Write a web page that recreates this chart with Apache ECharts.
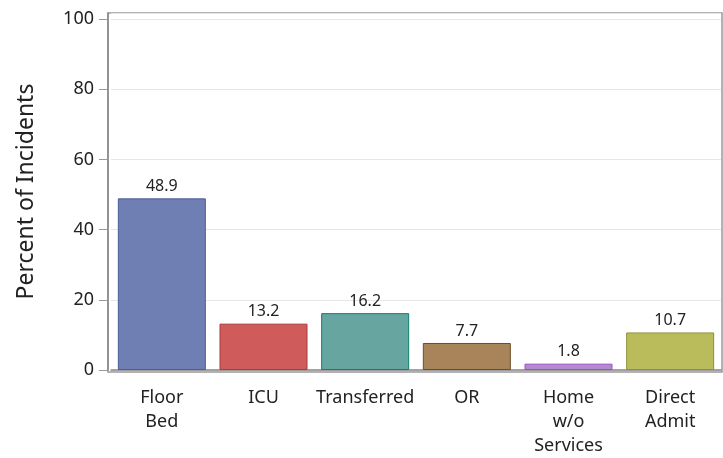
<!DOCTYPE html>
<html lang="en">
<head>
    <meta charset="UTF-8">
    <title>Percent of Incidents</title>
    <script src="https://cdn.jsdelivr.net/npm/echarts@6/dist/echarts.min.js"></script>
    <style>
        html, body { margin: 0; padding: 0; background: #fff; }
        #main { width: 723px; height: 458px; }
    </style>
</head>
<body>
<div id="main"></div>
<script>
    // data
    let categories = ['Floor\nBed', 'ICU', 'Transferred', 'OR', 'Home\nw/o\nServices', 'Direct\nAdmit'];
    let percents = [48.9, 13.2, 16.2, 7.7, 1.8, 10.7];
    let fills = ['#6f7eb3', '#d05b5b', '#66a5a0', '#a9845a', '#b689cd', '#babc5c'];
    let borders = ['#4c5c9c', '#a83a3a', '#0f7f72', '#6e4d26', '#9a4fc9', '#8f9136'];
    let yTicks = [0, 20, 40, 60, 80, 100];

    let myChart = echarts.init(document.getElementById('main'));
    let font = 'Noto Sans';

    let option = {
        animation: false,
        grid: { left: 111, right: 2, top: 13, bottom: 86 },
        xAxis: {
            type: 'category',
            data: categories,
            axisLine: { lineStyle: { color: '#888', width: 1.5 } },
            axisTick: { alignWithLabel: true, length: 9, lineStyle: { color: '#999' } },
            axisLabel: { interval: 0, color: '#222', fontFamily: font, fontSize: 18, lineHeight: 24, margin: 16 }
        },
        yAxis: {
            type: 'value',
            min: 0,
            max: 101.7,
            interval: 20,
            offset: 3,
            name: 'Percent of Incidents',
            nameLocation: 'middle',
            nameGap: 70,
            nameTextStyle: { color: '#222', fontFamily: font, fontSize: 23 },
            axisLine: { show: true, lineStyle: { color: '#888', width: 1.5 } },
            axisTick: { show: true, length: 9, lineStyle: { color: '#999' } },
            axisLabel: {
                color: '#222', fontFamily: font, fontSize: 18, margin: 14,
                showMaxLabel: false,
                formatter: function (v) { return yTicks.indexOf(v) >= 0 ? v : ''; }
            },
            splitLine: { lineStyle: { color: '#e6e6e6' } }
        },
        series: [
            {
                type: 'bar',
                barWidth: 88,
                data: percents.map(function (v, i) {
                    return {
                        value: v,
                        itemStyle: { color: fills[i], borderColor: borders[i], borderWidth: 1 }
                    };
                }),
                label: {
                    show: true,
                    position: 'top',
                    distance: 4,
                    color: '#222',
                    fontFamily: font,
                    fontSize: 16,
                    formatter: function (p) { return p.value.toFixed(1); }
                }
            }
        ],
        graphic: [
            {
                type: 'rect',
                shape: { x: 108, y: 13, width: 614, height: 359 },
                style: { fill: 'none', stroke: '#999', lineWidth: 1.5 },
                silent: true
            }
        ]
    };
    myChart.setOption(option);
</script>
</body>
</html>
